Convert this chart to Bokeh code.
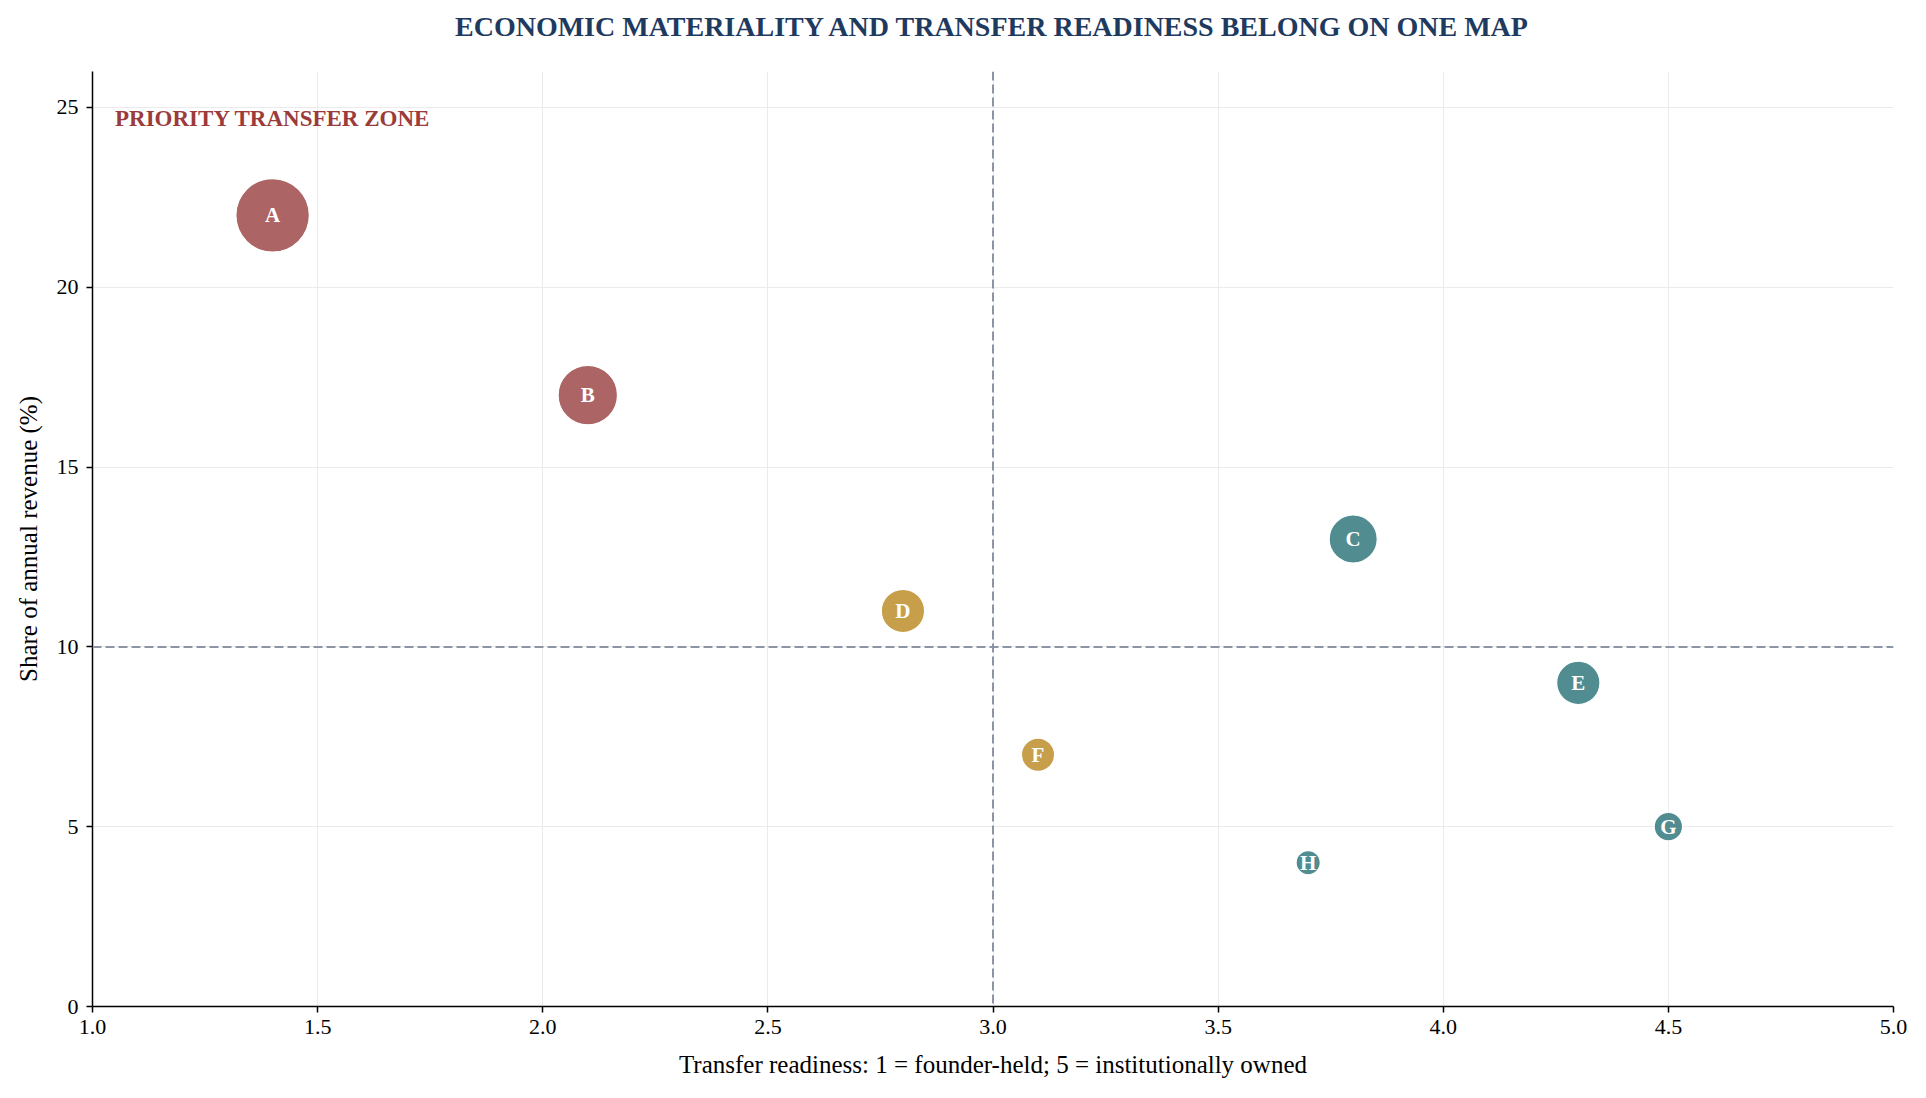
from bokeh.plotting import figure
from bokeh.models import ColumnDataSource, Span, FixedTicker, PrintfTickFormatter, Range1d, Label, Title
from bokeh.core.properties import value
from bokeh.embed import file_html
from bokeh.resources import INLINE
import numpy as np

# ---- data ----
labels = ["A", "B", "C", "D", "E", "F", "G", "H"]
readiness = [1.4, 2.1, 3.8, 2.8, 4.3, 3.1, 4.5, 3.7]
revenue_share = [22, 17, 13, 11, 9, 7, 5, 4]
bubble_weight = [49, 32, 21, 17, 17, 10, 7.3, 5.3]
group = ["priority", "priority", "ready", "watch", "ready", "watch", "ready", "ready"]
x_ticks = [1.0, 1.5, 2.0, 2.5, 3.0, 3.5, 4.0, 4.5, 5.0]
y_ticks = [0, 5, 10, 15, 20, 25]
readiness_threshold = 3.0
share_threshold = 10.0
title_text = "ECONOMIC MATERIALITY AND TRANSFER READINESS BELONG ON ONE MAP"
zone_text = "PRIORITY TRANSFER ZONE"

group_colors = {"priority": "#A85C5C", "watch": "#C4993F", "ready": "#47868A"}

SERIF = value("Liberation Serif")

src = ColumnDataSource(dict(
    x=readiness,
    y=revenue_share,
    label=labels,
    size=[10.5 * np.sqrt(w) for w in bubble_weight],
    color=[group_colors[g] for g in group],
))

p = figure(width=1910, height=1080, output_backend="svg", toolbar_location=None, title=None,
           x_range=Range1d(1, 5), y_range=Range1d(0, 26),
           min_border_left=92, min_border_right=17, min_border_top=71, min_border_bottom=72)

# spacer between frame and title (panels stack outward from the frame)
p.add_layout(Title(text=" ", text_font_size="2px", standoff=26), "above")
p.add_layout(Title(text=title_text, text_font="Liberation Serif", text_font_style="bold",
                   text_font_size="28px", text_color="#1F3A5F", align="center", standoff=0),
             "above")

p.outline_line_color = None
p.background_fill_color = "white"
p.border_fill_color = "white"

for ax in (p.xaxis, p.yaxis):
    ax.axis_line_color = "black"
    ax.axis_line_width = 1.5
    ax.major_tick_line_color = "black"
    ax.major_tick_line_width = 1.5
    ax.major_tick_out = 6
    ax.major_tick_in = 0
    ax.minor_tick_line_color = None
    ax.major_label_text_font = "Liberation Serif"
    ax.major_label_text_font_size = "22px"
    ax.major_label_text_color = "black"
    ax.axis_label_text_font = "Liberation Serif"
    ax.axis_label_text_font_size = "25px"
    ax.axis_label_text_font_style = "normal"
    ax.axis_label_text_color = "black"

p.xaxis.ticker = FixedTicker(ticks=x_ticks)
p.xaxis.formatter = PrintfTickFormatter(format="%.1f")
p.yaxis.ticker = FixedTicker(ticks=y_ticks)
p.xaxis.axis_label = "Transfer readiness: 1 = founder-held; 5 = institutionally owned"
p.yaxis.axis_label = "Share of annual revenue (%)"
p.xaxis.major_label_standoff = 7
p.yaxis.major_label_standoff = 8
p.xaxis.axis_label_standoff = 14
p.yaxis.axis_label_standoff = 12

p.xgrid.ticker = FixedTicker(ticks=x_ticks)
p.ygrid.ticker = FixedTicker(ticks=y_ticks)
p.grid.grid_line_color = "#EBEBEB"
p.grid.grid_line_width = 1

p.add_layout(Span(location=readiness_threshold, dimension="height", line_color="#8C95A5",
                  line_width=2, line_dash="9 4"))
p.add_layout(Span(location=share_threshold, dimension="width", line_color="#8C95A5",
                  line_width=2, line_dash="9 4"))

p.scatter(x="x", y="y", size="size", source=src, fill_color="color", fill_alpha=0.95,
          line_color="white", line_width=1.2)

p.text(x="x", y="y", text="label", source=src, text_align="center", text_baseline="middle",
       text_font=SERIF, text_font_style="bold", text_font_size="21px", text_color="white")

p.add_layout(Label(x=1.05, y=24.7, text=zone_text, text_font="Liberation Serif",
                   text_font_style="bold", text_font_size="23px", text_color="#9B3B3B",
                   text_align="left", text_baseline="middle"))

open("out.html", "w").write(file_html(p, INLINE))
